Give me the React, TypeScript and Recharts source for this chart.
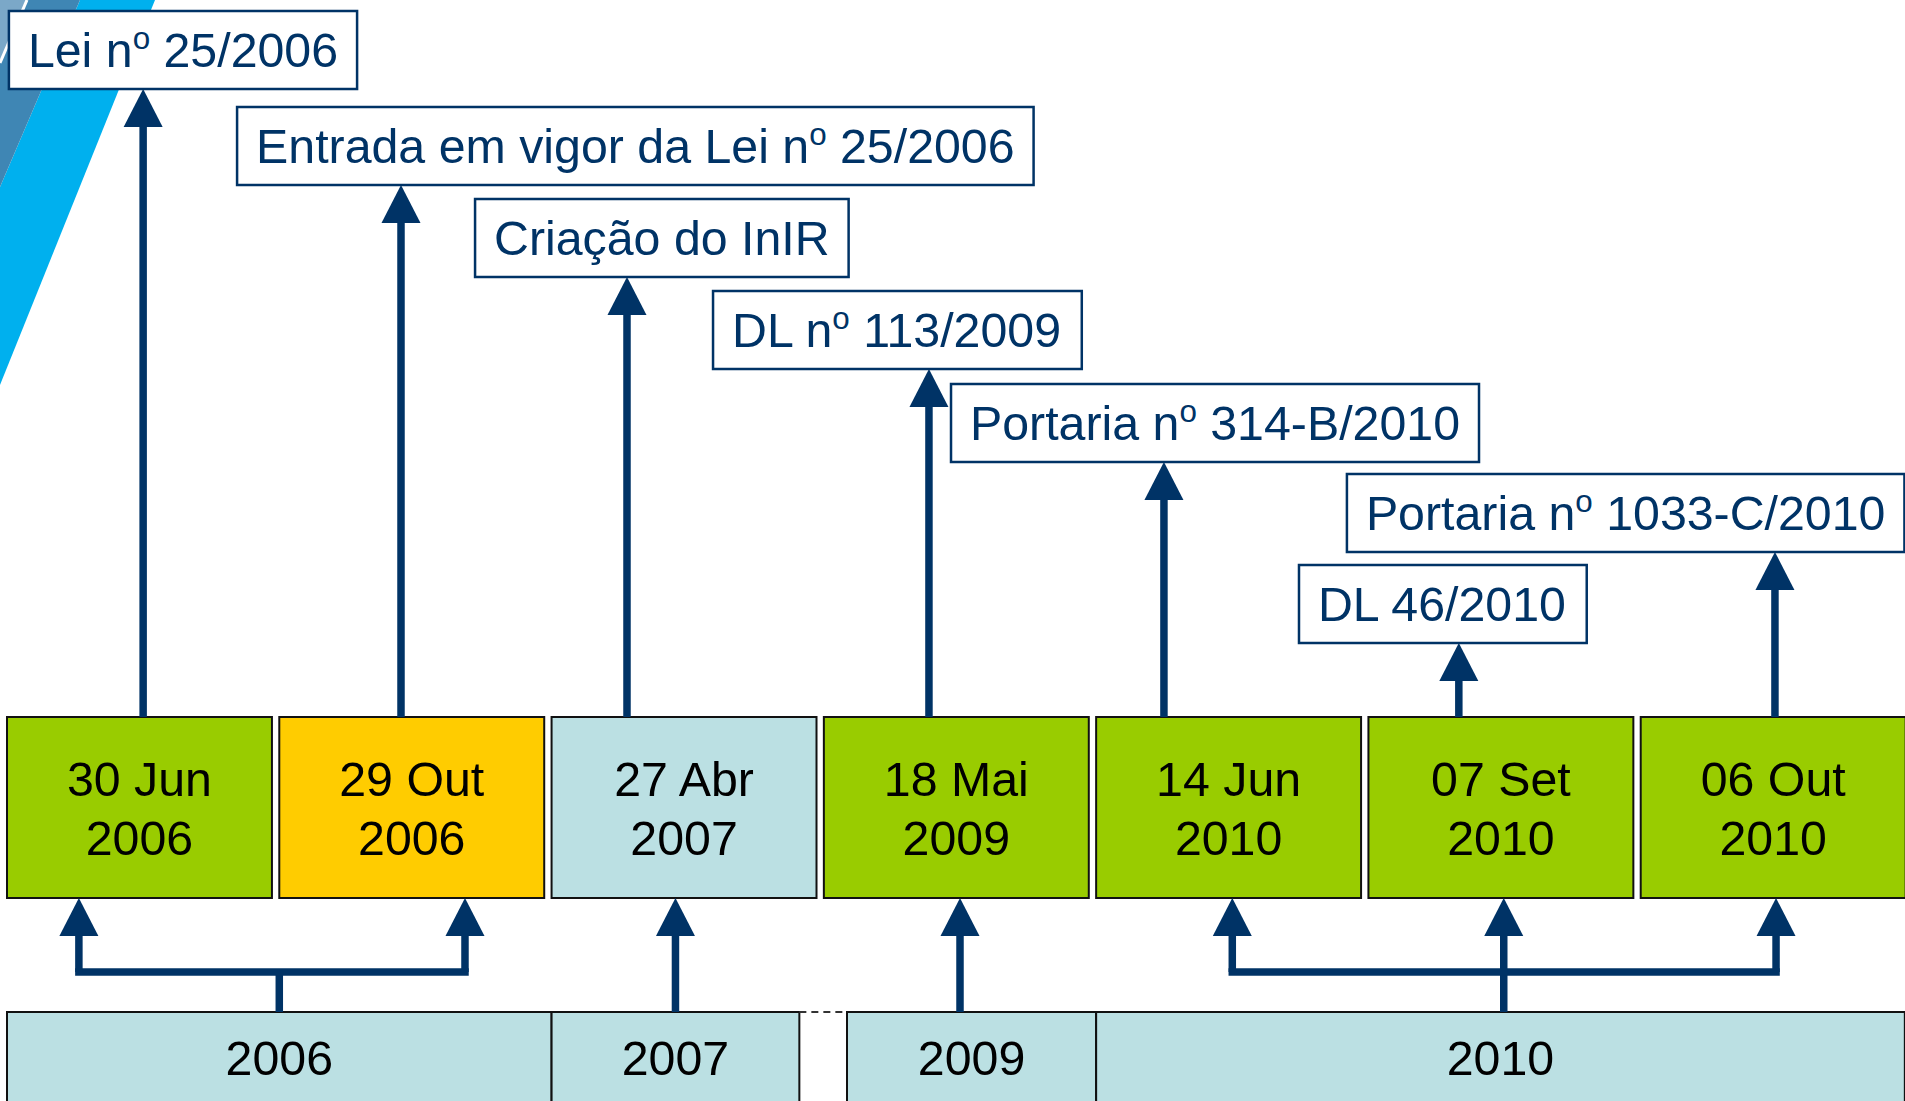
import React from 'react';
import {
  ComposedChart,
  XAxis,
  YAxis,
  ReferenceArea,
  ReferenceLine,
  Scatter,
} from 'recharts';

// timeline data
const dateLabels = ['30 Jun', '29 Out', '27 Abr', '18 Mai', '14 Jun', '07 Set', '06 Out'];
const dateYears = ['2006', '2006', '2007', '2009', '2010', '2010', '2010'];
const dateKinds = ['norma', 'vigor', 'instituto', 'norma', 'norma', 'norma', 'norma'];
const eventLabels = [
  'Lei nº 25/2006',
  'Entrada em vigor da Lei nº 25/2006',
  'Criação do InIR',
  'DL nº 113/2009',
  'Portaria nº 314-B/2010',
  'DL 46/2010',
  'Portaria nº 1033-C/2010',
];
const years = ['2006', '2007', '2009', '2010'];

// layout (x in slot units, one slot per date box; y in pixels from top)
const W = 1905;
const H = 1101;
const SLOT_PX = 1906 / 7;
const FONT = '"Liberation Sans", Arial, Helvetica, sans-serif';
const FS = 48.3;
const NAVY = '#003366';
const KIND_FILL: Record<string, string> = {
  norma: '#99CC00',
  vigor: '#FFCC00',
  instituto: '#BBE0E3',
};
const BOX_GAP = 0.027;
const BOX_TOP = 717;
const BOX_BOTTOM = 898;
const YEAR_TOP = 1012;
const YEAR_TEXT_Y = 1075;
const BAR_Y = 972;
const LEVEL_TOP = [11, 107, 199, 291, 384, 474, 565];
const LABEL_H = 78;
const LABEL_PAD = 19;
const eventLevel = [0, 1, 2, 3, 4, 6, 5];
const labelLeft = [-0.493, 0.345, 1.219, 2.093, 2.967, 4.245, 4.421];
const topArrowX = [0.0, 0.947, 1.777, 2.886, 3.749, 4.832, 5.993];
const bottomArrowX = [-0.236, 1.182, 1.955, 3.0, 4.0, 4.997, 5.997];
const yearSpan = [
  [-0.5, 1.5],
  [1.5, 2.41],
  [2.585, 3.5],
  [3.5, 6.47],
];
const yearStemX = [0.5, 1.955, 3.0, 4.997];
const HEAD_L = 38;
const HEAD_W = 39;
const STEM = 7.5;

let ctx: CanvasRenderingContext2D | null = null;
function measure(text: string, size: number) {
  if (!ctx) ctx = document.createElement('canvas').getContext('2d');
  if (!ctx) return text.length * size * 0.55;
  ctx.font = `${size}px ${FONT}`;
  return ctx.measureText(text).width;
}

const SUP = 0.65;
function richWidth(text: string) {
  const parts = text.split('º');
  let w = 0;
  parts.forEach((p, i) => {
    w += measure(p, FS);
    if (i < parts.length - 1) w += measure('o', FS * SUP);
  });
  return w;
}

function RichText({ text, x, y }: { text: string; x: number; y: number }) {
  const parts = text.split('º');
  const rise = FS * 0.37;
  const spans: React.ReactNode[] = [];
  parts.forEach((p, i) => {
    spans.push(
      <tspan key={`p${i}`} dy={i > 0 ? rise : 0}>
        {p}
      </tspan>,
    );
    if (i < parts.length - 1) {
      spans.push(
        <tspan key={`s${i}`} fontSize={FS * SUP} dy={-rise}>
          o
        </tspan>,
      );
    }
  });
  return (
    <text x={x} y={y} fill={NAVY} fontSize={FS} fontFamily={FONT} style={{ whiteSpace: 'pre' }}>
      {spans}
    </text>
  );
}

function arrowHead(props: any) {
  const { cx, cy } = props;
  const h = HEAD_W / 2;
  return (
    <polygon
      points={`${cx},${cy} ${cx - h},${cy + HEAD_L} ${cx + h},${cy + HEAD_L}`}
      fill={NAVY}
    />
  );
}

function Decoration() {
  return (
    <svg width={W} height={H} style={{ position: 'absolute', left: 0, top: 0 }}>
      <polygon points="155,0 0,385 0,187 80,0" fill="#00B0EE" />
      <polygon points="80,0 0,187 0,63 27,0" fill="#3F86B4" />
      <polygon points="27,0 0,63 0,0" fill="#7BA8C8" />
      <line x1={27} y1={0} x2={0} y2={63} stroke="#fff" strokeWidth={3} />
    </svg>
  );
}

export default function App() {
  const labelWidths = eventLabels.map((t) => richWidth(t) + 2 * LABEL_PAD);

  const heads = [
    ...topArrowX.map((x, i) => ({ x, y: LEVEL_TOP[eventLevel[i]] + LABEL_H })),
    ...bottomArrowX.map((x) => ({ x, y: BOX_BOTTOM })),
  ];

  const lineProps = {
    stroke: NAVY,
    strokeWidth: STEM,
    ifOverflow: 'visible' as const,
  };

  const connectors: React.ReactNode[] = [];
  years.forEach((yr, j) => {
    const idx = dateYears.map((d, i) => (d === yr ? i : -1)).filter((i) => i >= 0);
    if (idx.length === 1) {
      const bx = bottomArrowX[idx[0]];
      connectors.push(
        <ReferenceLine
          key={`c${j}`}
          {...lineProps}
          segment={[
            { x: bx, y: YEAR_TOP },
            { x: bx, y: BOX_BOTTOM + HEAD_L - 1 },
          ]}
        />,
      );
      return;
    }
    const xs = idx.map((i) => bottomArrowX[i]);
    const c = yearStemX[j];
    connectors.push(
      <ReferenceLine
        key={`s${j}`}
        {...lineProps}
        segment={[
          { x: c, y: YEAR_TOP },
          { x: c, y: BAR_Y },
        ]}
      />,
      <ReferenceLine
        key={`h${j}`}
        {...lineProps}
        strokeLinecap="square"
        segment={[
          { x: Math.min(...xs), y: BAR_Y },
          { x: Math.max(...xs), y: BAR_Y },
        ]}
      />,
    );
    xs.forEach((bx, k) =>
      connectors.push(
        <ReferenceLine
          key={`b${j}-${k}`}
          {...lineProps}
          segment={[
            { x: bx, y: BAR_Y },
            { x: bx, y: BOX_BOTTOM + HEAD_L - 1 },
          ]}
        />,
      ),
    );
  });

  return (
    <div
      style={{
        position: 'fixed',
        left: 0,
        top: 0,
        width: W,
        height: H,
        overflow: 'hidden',
        background: '#fff',
      }}
    >
      <Decoration />
      <div style={{ position: 'absolute', left: 0, top: 0 }}>
        <ComposedChart width={1920} height={H} margin={{ top: 0, right: 7, bottom: 0, left: 7 }}>
          <XAxis type="number" dataKey="x" domain={[-0.5, 6.5]} allowDataOverflow hide />
          <YAxis type="number" dataKey="y" domain={[0, H]} reversed allowDataOverflow hide />

          {years.map((yr, j) => (
            <ReferenceArea
              key={`y${yr}`}
              x1={yearSpan[j][0]}
              x2={yearSpan[j][1]}
              y1={YEAR_TOP}
              y2={H + 20}
              ifOverflow="visible"
              shape={(p: any) => (
                <g>
                  <rect
                    x={p.x}
                    y={p.y}
                    width={p.width}
                    height={p.height}
                    fill="#BBE0E3"
                    stroke="#111"
                    strokeWidth={2}
                  />
                  <text
                    x={p.x + p.width / 2}
                    y={YEAR_TEXT_Y}
                    textAnchor="middle"
                    fontSize={FS}
                    fontFamily={FONT}
                    fill="#000"
                  >
                    {yr}
                  </text>
                </g>
              )}
            />
          ))}

          <ReferenceLine
            segment={[
              { x: yearSpan[1][1], y: YEAR_TOP },
              { x: yearSpan[2][0], y: YEAR_TOP },
            ]}
            stroke="#333"
            strokeWidth={2}
            strokeDasharray="7 5"
            ifOverflow="visible"
          />

          {dateLabels.map((d, i) => (
            <ReferenceArea
              key={`d${i}`}
              x1={i - 0.5}
              x2={i + 0.5 - BOX_GAP}
              y1={BOX_TOP}
              y2={BOX_BOTTOM}
              ifOverflow="visible"
              shape={(p: any) => (
                <g>
                  <rect
                    x={p.x}
                    y={p.y}
                    width={p.width}
                    height={p.height}
                    fill={KIND_FILL[dateKinds[i]]}
                    stroke="#111"
                    strokeWidth={2}
                  />
                  <text
                    textAnchor="middle"
                    fontSize={FS}
                    fontFamily={FONT}
                    fill="#000"
                  >
                    <tspan x={p.x + p.width / 2} y={p.y + 79}>
                      {d}
                    </tspan>
                    <tspan x={p.x + p.width / 2} y={p.y + 138}>
                      {dateYears[i]}
                    </tspan>
                  </text>
                </g>
              )}
            />
          ))}

          {eventLabels.map((t, i) => {
            const top = LEVEL_TOP[eventLevel[i]];
            return (
              <ReferenceArea
                key={`l${i}`}
                x1={labelLeft[i]}
                x2={labelLeft[i] + labelWidths[i] / SLOT_PX}
                y1={top}
                y2={top + LABEL_H}
                ifOverflow="visible"
                shape={(p: any) => (
                  <g>
                    <rect
                      x={p.x}
                      y={p.y}
                      width={p.width}
                      height={p.height}
                      fill="#fff"
                      stroke={NAVY}
                      strokeWidth={2.5}
                    />
                    <RichText text={t} x={p.x + LABEL_PAD} y={p.y + p.height / 2 + FS * 0.35} />
                  </g>
                )}
              />
            );
          })}

          {topArrowX.map((x, i) => (
            <ReferenceLine
              key={`t${i}`}
              {...lineProps}
              segment={[
                { x, y: BOX_TOP },
                { x, y: LEVEL_TOP[eventLevel[i]] + LABEL_H + HEAD_L - 1 },
              ]}
            />
          ))}

          {connectors}

          <Scatter data={heads} shape={arrowHead} isAnimationActive={false} />
        </ComposedChart>
      </div>
    </div>
  );
}
